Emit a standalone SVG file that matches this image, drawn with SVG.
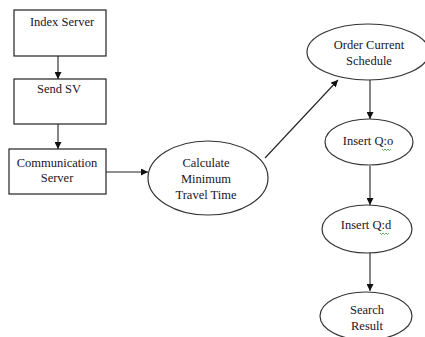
<svg xmlns="http://www.w3.org/2000/svg" width="425" height="337" viewBox="0 0 425 337">
  <defs>
    <marker id="arrow" viewBox="0 0 10 10" refX="10" refY="5" markerWidth="7" markerHeight="7" markerUnits="userSpaceOnUse" orient="auto">
      <path d="M0,0 L10,5 L0,10 z" fill="#111"/>
    </marker>
    <style>
      .box { fill: #fff; stroke: #222; stroke-width: 1.2; }
      .oval { fill: #fff; stroke: #333; stroke-width: 1.2; }
      .label { font-family: 'Liberation Serif', 'DejaVu Serif', serif; font-size: 12.5px; fill: #1a1428; text-anchor: middle; }
      .edge { fill: none; stroke: #222; stroke-width: 1.1; marker-end: url(#arrow); }
      .spell { fill: none; stroke: #2ea02e; stroke-width: 0.8; }
    </style>
  </defs>

  <rect width="425" height="337" fill="#fff"/>

  <g id="connectors">
    <line class="edge" x1="58" y1="56" x2="58" y2="79"/>
    <line class="edge" x1="58" y1="124" x2="58" y2="149"/>
    <line class="edge" x1="106" y1="172" x2="148" y2="172"/>
    <line class="edge" x1="265" y1="158" x2="338" y2="80"/>
    <line class="edge" x1="370" y1="80" x2="370" y2="119"/>
    <line class="edge" x1="370" y1="166" x2="370" y2="205"/>
    <line class="edge" x1="370" y1="252" x2="370" y2="291"/>
  </g>

  <g id="index-server">
    <rect class="box" x="14" y="10" width="92" height="46"/>
    <text class="label" x="62" y="26">Index Server</text>
  </g>

  <g id="send-sv">
    <rect class="box" x="14" y="79" width="92" height="45"/>
    <text class="label" x="59" y="93">Send SV</text>
  </g>

  <g id="communication-server">
    <rect class="box" x="9" y="149" width="97" height="45"/>
    <text class="label" x="57" y="167">Communication</text>
    <text class="label" x="57" y="182">Server</text>
  </g>

  <g id="calculate">
    <ellipse class="oval" cx="208" cy="178" rx="60" ry="37"/>
    <text class="label" x="206" y="167">Calculate</text>
    <text class="label" x="206" y="183">Minimum</text>
    <text class="label" x="206" y="199">Travel Time</text>
  </g>

  <g id="order-schedule">
    <ellipse class="oval" cx="368" cy="52" rx="61" ry="28"/>
    <text class="label" x="369" y="49">Order Current</text>
    <text class="label" x="369" y="65">Schedule</text>
  </g>

  <g id="insert-qo">
    <ellipse class="oval" cx="369" cy="142" rx="44" ry="23"/>
    <text class="label" x="368" y="145">Insert Q:o</text>
    <path class="spell" d="M382,149 l1.5,1.5 l1.5,-1.5 l1.5,1.5 l1.5,-1.5 l1.5,1.5 l1.5,-1.5"/>
  </g>

  <g id="insert-qd">
    <ellipse class="oval" cx="367" cy="229" rx="45" ry="24"/>
    <text class="label" x="366" y="229">Insert Q:d</text>
    <path class="spell" d="M380,233 l1.5,1.5 l1.5,-1.5 l1.5,1.5 l1.5,-1.5 l1.5,1.5 l1.5,-1.5"/>
  </g>

  <g id="search-result">
    <ellipse class="oval" cx="366" cy="316" rx="46" ry="24"/>
    <text class="label" x="367" y="314">Search</text>
    <text class="label" x="367" y="330">Result</text>
  </g>
</svg>
